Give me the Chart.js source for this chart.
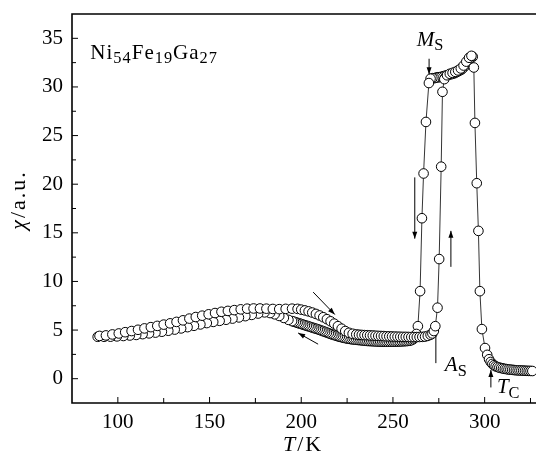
<!DOCTYPE html>
<html>
<head>
<meta charset="utf-8">
<script src="https://cdn.jsdelivr.net/npm/chart.js@4.4.0/dist/chart.umd.min.js"></script>
<style>
html, body { margin: 0; padding: 0; background: #fff; }
#wrap { width: 536px; height: 457px; }
</style>
</head>
<body>
<div id="wrap"><canvas id="chart"></canvas></div>
<script>
// [T/K, chi/a.u.]
var heatingLow = [[90,4.40],[93.5,4.45],[97,4.55],[100.5,4.65],[104,4.78],[107.5,4.90],[111,5.03],[114.5,5.17],[118,5.30],[121.5,5.43],[125,5.56],[128.5,5.69],[132,5.84],[135.5,6.00],[139,6.18],[142.5,6.34],[146,6.48],[149.5,6.62],[153,6.75],[156.5,6.88],[160,6.97],[163.5,7.05],[167,7.13],[170.5,7.20],[174,7.22],[177.5,7.22],[181,7.20],[184.5,7.17],[188,7.15],[191.5,7.18],[195,7.20],[198,7.18]];
var heatingMid = [[200,7.10],[202,7.02],[204,6.92],[206,6.80],[208,6.66],[210,6.50],[212,6.32],[214,6.12],[216,5.90],[218,5.66],[220,5.40],[222,5.14],[224,4.90],[226,4.72],[228,4.62],[230,4.55]];
var heatingFlat = [[231.5,4.52],[233,4.50],[234.5,4.48],[236,4.47],[237.5,4.45],[239,4.44],[240.5,4.42],[242,4.40],[243.5,4.39],[245,4.38],[246.5,4.36],[248,4.35],[249.5,4.34],[251,4.33],[252.5,4.32],[254,4.31],[255.5,4.30],[257,4.30],[258.5,4.29],[260,4.28],[261.5,4.28],[263,4.28],[264.5,4.29],[266,4.30],[267.5,4.33],[269,4.40],[270.5,4.52]];
var heatingHigh = [[271.5,4.65],[272.3,4.90],[273.1,5.40],[274.3,7.30],[275.2,12.3],[276.3,21.8],[277,29.5],[278,30.8],[279.5,31.2],[281,31.35],[282.5,31.45],[284,31.55],[285.5,31.7],[287,31.9],[288.5,32.2],[290,32.6],[291.5,33.0],[292.8,33.2],[294.1,32.0],[294.7,26.3],[295.7,20.1],[296.6,15.2],[297.4,9.0],[298.5,5.1],[300.2,3.15],[301.4,2.45],[302.4,2.0],[303.3,1.72],[304.2,1.52],[305.1,1.38],[306,1.27],[307,1.2],[308,1.14],[309,1.09],[310,1.05],[311,1.01],[312,0.98],[313,0.95],[314,0.93],[315,0.91],[316,0.89],[317,0.87],[318,0.86],[319,0.85],[320,0.84],[321,0.83],[322,0.82],[323,0.81],[324,0.80],[325,0.80],[326,0.79]];

var coolingPlateau = [[293.5,33.1],[292.5,33.0],[291.5,32.8],[290.5,32.5],[289.5,32.2],[288.5,32.0],[287.5,31.8],[286.5,31.7],[285.5,31.6],[284.5,31.5],[283.5,31.4],[282.5,31.35],[281.5,31.3],[280.5,31.25],[279.5,31.2],[278.5,31.15],[277.5,31.1],[276.5,31.05],[275.5,31.0],[274.5,31.0],[273.5,30.95],[272.5,30.9],[271.5,30.9],[270.5,30.85],[269.6,30.4],[268,26.4],[266.7,21.1],[265.8,16.5],[264.8,9.0],[263.6,5.4],[262.8,4.6]];
var coolingFlat = [[262,4.25],[261,4.05],[260,3.95],[259,3.9],[258,3.88],[257,3.86],[256,3.85],[255,3.84],[254,3.83],[253,3.82],[252,3.82],[251,3.81],[250,3.81],[249,3.8],[248,3.8],[247,3.8],[246,3.8],[245,3.8],[244,3.81],[243,3.81],[242,3.82],[241,3.83],[240,3.84],[239,3.85],[238,3.86],[237,3.87],[236,3.88],[235,3.9],[234,3.92],[233,3.94],[232,3.96],[231,3.98],[230,4.0],[229,4.02],[228,4.04],[227,4.07],[226,4.1],[225,4.13],[224,4.17],[223,4.21],[222,4.26],[221,4.31],[220,4.36],[219,4.42],[218,4.48],[217,4.54],[216,4.6],[215,4.67],[214,4.74],[213,4.81],[212,4.88],[211,4.95],[210,5.02],[209,5.08],[208,5.14],[207,5.2],[206,5.26],[205,5.32],[204,5.38],[203,5.44],[202,5.5],[201,5.56],[200,5.62],[199,5.68],[198,5.74],[197,5.8],[196,5.86],[195,5.92]];
var coolingLow = [[193,6.05],[190.5,6.25],[188,6.45],[185.5,6.62],[183,6.75],[180,6.82],[176.5,6.7],[173,6.56],[169.5,6.43],[166,6.3],[162.5,6.18],[159,6.06],[155.5,5.95],[152,5.84],[148.5,5.72],[145,5.58],[141.5,5.44],[138,5.3],[134.5,5.17],[131,5.05],[127.5,4.93],[124,4.83],[120.5,4.74],[117,4.66],[113.5,4.58],[110,4.5],[106.5,4.44],[103,4.39],[99.5,4.35],[96,4.32],[92.5,4.31],[89,4.31]];

var xTicks = [100, 150, 200, 250, 300];
var xMinor = [125, 175, 225, 275, 325];
var yTicks = [0, 5, 10, 15, 20, 25, 30, 35];
var yMinor = [2.5, 7.5, 12.5, 17.5, 22.5, 27.5, 32.5];

var FONT = "'Liberation Serif', 'DejaVu Serif', serif";

function toPoints(list) {
    return list.map(function(p) {
        return { x: p[0], y: p[1] };
    });
}

var heating = toPoints(heatingLow.concat(heatingMid, heatingFlat, heatingHigh)),
    cooling = toPoints(coolingPlateau.concat(coolingFlat, coolingLow));

// text made of pieces: {t, it (italic), sub}; returns the width
function richText(ctx, parts, x, y, size, draw) {
    var x0 = x;
    parts.forEach(function(p) {
        var s = p.sub ? size * 0.78 : size;
        ctx.font = (p.it ? "italic " : "") + s + "px " + FONT;
        if (draw !== false) {
            ctx.fillText(p.t, x, p.sub ? y + size * 0.22 : y);
        }
        x += ctx.measureText(p.t).width;
    });
    return x - x0;
}

function arrow(ctx, x1, y1, x2, y2, head) {
    ctx.beginPath();
    ctx.moveTo(x1, y1);
    ctx.lineTo(x2, y2);
    ctx.stroke();
    if (!head) {
        return;
    }
    var ang = Math.atan2(y2 - y1, x2 - x1),
        len = 7,
        w = 2.5;
    ctx.beginPath();
    ctx.moveTo(x2, y2);
    ctx.lineTo(x2 - len * Math.cos(ang) + w * Math.sin(ang), y2 - len * Math.sin(ang) - w * Math.cos(ang));
    ctx.lineTo(x2 - len * Math.cos(ang) - w * Math.sin(ang), y2 - len * Math.sin(ang) + w * Math.cos(ang));
    ctx.closePath();
    ctx.fill();
}

var decor = {
    id: "decor",
    afterDraw: function(chart) {
        var ctx = chart.ctx,
            a = chart.chartArea,
            xs = chart.scales.x,
            ys = chart.scales.y;

        function px(v) { return xs.getPixelForValue(v); }
        function py(v) { return ys.getPixelForValue(v); }

        ctx.save();
        ctx.strokeStyle = "#000";
        ctx.fillStyle = "#000";

        // frame: left, bottom, top (right side is cut off in the original)
        ctx.lineWidth = 1.6;
        ctx.beginPath();
        ctx.moveTo(chart.width, a.top);
        ctx.lineTo(a.left, a.top);
        ctx.lineTo(a.left, a.bottom);
        ctx.lineTo(chart.width, a.bottom);
        ctx.stroke();

        // inward ticks
        ctx.lineWidth = 1;
        ctx.beginPath();
        yTicks.forEach(function(v) {
            ctx.moveTo(a.left, py(v)); ctx.lineTo(a.left + 6, py(v));
        });
        yMinor.forEach(function(v) {
            ctx.moveTo(a.left, py(v)); ctx.lineTo(a.left + 4, py(v));
        });
        xTicks.forEach(function(v) {
            ctx.moveTo(px(v), a.bottom); ctx.lineTo(px(v), a.bottom - 6);
        });
        xMinor.forEach(function(v) {
            ctx.moveTo(px(v), a.bottom); ctx.lineTo(px(v), a.bottom - 5);
        });
        ctx.stroke();

        // arrows and marker lines
        arrow(ctx, px(269.7), py(32.9), px(269.7), py(31.3), true);   // Ms
        arrow(ctx, px(261.9), py(20.7), px(261.9), py(14.4), true);   // cooling
        arrow(ctx, px(281.6), py(11.5), px(281.6), py(15.2), true);   // heating
        arrow(ctx, px(273.4), py(4.5), px(273.4), py(1.6), false);    // As
        arrow(ctx, px(303.4), py(-0.9), px(303.4), py(0.9), true);    // Tc
        arrow(ctx, px(206.5), py(8.9), px(218.3), py(6.6), true);
        arrow(ctx, px(209.2), py(3.55), px(198.3), py(4.7), true);

        // labels
        ctx.textBaseline = "alphabetic";
        ctx.textAlign = "left";
        ctx.letterSpacing = "1px";
        richText(ctx, [{ t: "Ni" }, { t: "54", sub: true }, { t: "Fe" }, { t: "19", sub: true }, { t: "Ga" }, { t: "27", sub: true }], px(85), py(32.9), 21);
        ctx.letterSpacing = "0px";
        richText(ctx, [{ t: "M", it: true }, { t: "S", sub: true }], px(263), py(34.25), 21);
        richText(ctx, [{ t: "A", it: true }, { t: "S", sub: true }], px(278.3), py(0.8), 21);
        richText(ctx, [{ t: "T", it: true }, { t: "C", sub: true }], px(306.7), py(-1.47), 21);

        // axis titles
        ctx.letterSpacing = "2px";
        richText(ctx, [{ t: "T", it: true }, { t: "/K" }], 283, 451, 22);
        var yTitle = [{ t: "χ", it: true }, { t: "/a.u." }],
            w = richText(ctx, yTitle, 0, 0, 22, false);
        ctx.translate(25, 200 + w / 2);
        ctx.rotate(-Math.PI / 2);
        richText(ctx, yTitle, 0, 0, 22);
        ctx.restore();
    }
};

var tickFont = { family: FONT, size: 21 };

new Chart(document.getElementById("chart"), {
    type: "scatter",
    data: {
        datasets: [{
            data: heating,
            showLine: true,
            borderColor: "#000",
            borderWidth: 0.8,
            pointRadius: 0,
            order: 3
        }, {
            data: cooling,
            showLine: true,
            borderColor: "#000",
            borderWidth: 0.8,
            pointRadius: 0,
            order: 4
        }, {
            data: cooling,
            showLine: false,
            pointRadius: 4.8,
            pointBackgroundColor: "#fff",
            pointBorderColor: "#000",
            pointBorderWidth: 1,
            order: 2
        }, {
            data: heating,
            showLine: false,
            pointRadius: 4.8,
            pointBackgroundColor: "#fff",
            pointBorderColor: "#000",
            pointBorderWidth: 1,
            order: 1
        }]
    },
    options: {
        responsive: true,
        maintainAspectRatio: false,
        animation: false,
        events: [],
        layout: {
            autoPadding: false,
            padding: { top: 14, right: 0, bottom: 0, left: 0 }
        },
        plugins: {
            legend: { display: false },
            tooltip: { enabled: false }
        },
        scales: {
            x: {
                type: "linear",
                min: 75,
                max: 328,
                grid: { display: false, drawTicks: false },
                border: { display: false },
                ticks: { font: tickFont, color: "#000", padding: 7, maxRotation: 0 },
                afterBuildTicks: function(s) {
                    s.ticks = xTicks.map(function(v) { return { value: v }; });
                },
                afterFit: function(s) {
                    s.height = 54;
                    s.paddingLeft = 0;
                    s.paddingRight = 0;
                }
            },
            y: {
                type: "linear",
                min: -2.5,
                max: 37.5,
                grid: { display: false, drawTicks: false },
                border: { display: false },
                ticks: { font: tickFont, color: "#000", padding: 9 },
                afterBuildTicks: function(s) {
                    s.ticks = yTicks.map(function(v) { return { value: v }; });
                },
                afterFit: function(s) {
                    s.width = 72;
                    s.paddingTop = 0;
                    s.paddingBottom = 0;
                }
            }
        }
    },
    plugins: [decor]
});
</script>
</body>
</html>
